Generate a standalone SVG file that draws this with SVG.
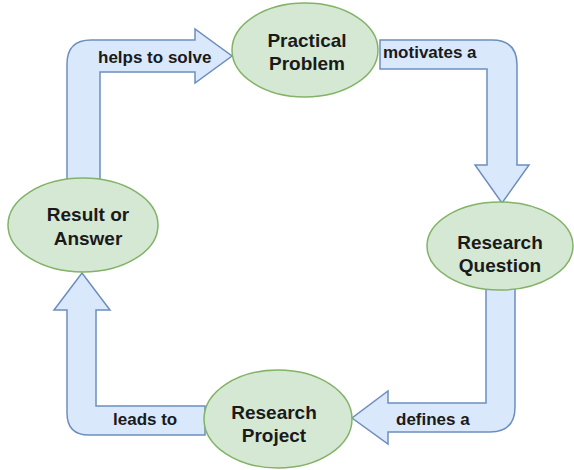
<svg xmlns="http://www.w3.org/2000/svg" width="574" height="470" viewBox="0 0 574 470">
<style>
.arrow{fill:#dae8fc;stroke:#6c8ebf;stroke-width:1.5;stroke-linejoin:miter}
.node{fill:#d5e8d4;stroke:#82b366;stroke-width:1.5}
.nt{font-family:"Liberation Sans",Arial,sans-serif;font-weight:bold;font-size:19px;fill:#1a1a1a;text-anchor:middle}
.lt{font-family:"Liberation Sans",Arial,sans-serif;font-weight:bold;font-size:17px;fill:#1a1a1a}
</style>
<rect width="574" height="470" fill="#ffffff"/>
<g id="connectors">
<g id="c-helps">
<path class="arrow" d="M67,180 L67,64 Q67,40 91,40 L195,40 L195,29 L232,56 L195,83 L195,72 L100,72 L100,180 Z"/>
<text class="lt" x="98" y="63">helps to solve</text>
</g>
<g id="c-motivates">
<path class="arrow" d="M380,40 L492,40 Q517,40 517,65 L517,165 L529,165 L502,203 L475,165 L487,165 L487,69 L380,69 Z"/>
<text class="lt" x="383" y="58">motivates a</text>
</g>
<g id="c-defines">
<path class="arrow" d="M486,286 L515,286 L515,407 Q515,432 490,432 L388,432 L388,444 L352,418 L388,391 L388,403 L486,403 Z"/>
<text class="lt" x="396" y="425">defines a</text>
</g>
<g id="c-leads">
<path class="arrow" d="M205,406 L205,435 L89,435 Q67,435 67,413 L67,310 L54,310 L82,273 L110,310 L96,310 L96,406 Z"/>
<text class="lt" x="113" y="425">leads to</text>
</g>
</g>
<g id="practical-problem">
<ellipse class="node" cx="305" cy="50" rx="73" ry="47"/>
<text class="nt" x="307" y="47">Practical</text>
<text class="nt" x="307" y="70">Problem</text>
</g>
<g id="research-question">
<ellipse class="node" cx="500" cy="246" rx="73" ry="44"/>
<text class="nt" x="500" y="249">Research</text>
<text class="nt" x="500" y="272">Question</text>
</g>
<g id="research-project">
<ellipse class="node" cx="278" cy="419" rx="74" ry="49"/>
<text class="nt" x="274" y="419">Research</text>
<text class="nt" x="274" y="442">Project</text>
</g>
<g id="result-answer">
<ellipse class="node" cx="83" cy="225" rx="75" ry="47"/>
<text class="nt" x="88" y="221">Result or</text>
<text class="nt" x="88" y="245">Answer</text>
</g>
</svg>
